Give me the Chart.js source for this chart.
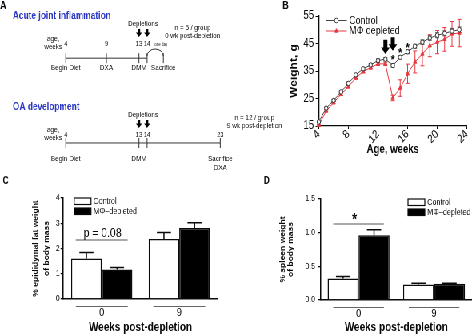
<!DOCTYPE html>
<html>
<head>
<meta charset="utf-8">
<script src="https://cdn.jsdelivr.net/npm/chart.js@4.4.1/dist/chart.umd.min.js"></script>
<style>
  html, body { margin: 0; padding: 0; background: #fff; overflow: hidden; }
  /* the figure is drawn 1.25x wide and squeezed back, like the original */
  #figure { position: relative; width: 593px; height: 334px; transform: scaleX(0.8); transform-origin: 0 0; }
  #figure canvas { position: absolute; }
</style>
</head>
<body>
<div id="figure">
  <canvas id="panelA" width="375" height="176" style="left:0;top:0"></canvas>
  <canvas id="panelB" width="297" height="167" style="left:296px;top:0"></canvas>
  <canvas id="panelC" width="296" height="167" style="left:0;top:167px"></canvas>
  <canvas id="panelD" width="297" height="167" style="left:296px;top:167px"></canvas>
</div>
<script>
const SANS = "Arial, 'Liberation Sans', Helvetica, sans-serif";
const INK = '#0a0a0a';
const RED = '#e8383f';
const BLUE = '#2b37c2';

// panel A - study timelines
const acuteWeeks = [4, 9, 13, 14];
const acuteLabels = ['Begin Diet', 'DXA', 'DMM', ''];
const sacrificeWeek = 16;
const oaWeeks = [4, 13, 14, 23];
const oaLabels = ['Begin Diet', 'DMM', '', 'Sacrifice'];
const depletionWeeks = [13, 14];

// panel B - body weight
const weeks = [4, 5, 6, 7, 8, 9, 10, 11, 12, 13, 14, 15, 16, 17, 18, 19, 20, 21, 22, 23];
const controlWeight = [16.5, 21.5, 24.3, 27.4, 30.5, 33.6, 35.8, 37.2, 38.8, 39.3, 37.0, 40.0, 42.0, 44.0, 45.5, 47.0, 48.0, 48.7, 49.5, 50.0];
const controlErr = [0.3, 0.4, 0.4, 0.4, 0.5, 0.5, 0.5, 0.5, 0.6, 0.6, 0.6, 0.6, 0.7, 0.7, 0.8, 0.8, 0.9, 0.9, 1.0, 1.0];
const depletedWeight = [15.3, 20.5, 23.5, 26.5, 29.3, 32.5, 34.8, 36.2, 37.6, 37.6, 25.2, 28.8, 34.0, 38.3, 41.2, 44.2, 45.5, 46.5, 48.5, 48.8];
const depletedErr = [0.3, 0.4, 0.4, 0.4, 0.5, 0.5, 0.5, 0.5, 0.6, 0.6, 1.0, 3.0, 3.5, 4.0, 4.3, 4.0, 4.2, 4.3, 4.5, 5.0];
const starWeeks = [14, 15, 16];
const starHeights = [40.2, 42.6, 44.5];

// panels C and D - tissue weights
const postDepletion = ['0', '9'];
const fatControl = [1.6, 2.38];
const fatControlErr = [0.24, 0.25];
const fatDepleted = [1.17, 2.81];
const fatDepletedErr = [0.08, 0.21];
const spleenControl = [0.32, 0.23];
const spleenControlErr = [0.03, 0.02];
const spleenDepleted = [0.96, 0.24];
const spleenDepletedErr = [0.085, 0.01];

Chart.defaults.font.family = SANS;
Chart.defaults.color = INK;
Chart.defaults.animation = false;
Chart.defaults.responsive = false;
Chart.defaults.devicePixelRatio = 1;
Chart.defaults.plugins.legend.display = false;
Chart.defaults.plugins.tooltip.enabled = false;

function text(ctx, str, x, y, font, opts = {}) {
  ctx.save();
  ctx.font = font;
  ctx.fillStyle = opts.color || INK;
  ctx.textAlign = opts.align || 'center';
  ctx.textBaseline = opts.baseline || 'middle';
  ctx.fillText(str, x, y);
  ctx.restore();
}

function downArrow(ctx, x, top, bottom, shaft, head, headH) {
  ctx.save();
  ctx.fillStyle = '#000';
  ctx.beginPath();
  ctx.moveTo(x - shaft / 2, top);
  ctx.lineTo(x + shaft / 2, top);
  ctx.lineTo(x + shaft / 2, bottom - headH);
  ctx.lineTo(x + head / 2, bottom - headH);
  ctx.lineTo(x, bottom);
  ctx.lineTo(x - head / 2, bottom - headH);
  ctx.lineTo(x - shaft / 2, bottom - headH);
  ctx.closePath();
  ctx.fill();
  ctx.restore();
}

// ---------- panel A ----------
const ACUTE_Y = 56, OA_Y = 147;
const tickPoint = { pointStyle: 'line', rotation: 90, pointRadius: 5, pointBorderWidth: 1, pointBorderColor: '#333', borderColor: '#333', borderWidth: 1 };

const timelineText = {
  id: 'timelineText',
  afterDraw(chart) {
    const ctx = chart.ctx;
    const x = v => chart.scales.x.getPixelForValue(v);
    const small = `8px ${SANS}`;
    text(ctx, 'A', 0, 6, `bold 11px ${SANS}`, {align: 'left'});
    const sections = [
      {title: 'Acute joint inflammation', titleY: 16, y: ACUTE_Y, wk: acuteWeeks, labels: acuteLabels, n: 'n = 5 / group', post: '0 wk post-depletion', nWeek: 19.6, nY: 28},
      {title: 'OA development', titleY: 107, y: OA_Y, wk: oaWeeks, labels: oaLabels, n: 'n = 12 / group', post: '9 wk post-depletion', nWeek: 27.2, nY: 118}
    ];
    sections.forEach(s => {
      text(ctx, s.title, 16, s.titleY, `bold 10.5px ${SANS}`, {align: 'left', color: BLUE});
      text(ctx, 'age,', x(2.45), s.y - 17, small);
      text(ctx, 'weeks', x(2.45), s.y - 9, small);
      s.wk.forEach((w, i) => {
        text(ctx, String(w), x(w), s.y - 12, `7.5px ${SANS}`);
        if (s.labels[i]) text(ctx, s.labels[i], x(w), s.y + 12, small);
      });
      const mid = (depletionWeeks[0] + depletionWeeks[1]) / 2;
      text(ctx, 'Depletions', x(mid), s.y - 32, small);
      depletionWeeks.forEach(w => downArrow(ctx, x(w), s.y - 27, s.y - 19, 3, 7.5, 4.5));
      text(ctx, s.n, x(s.nWeek), s.nY, small);
      text(ctx, s.post, x(s.nWeek), s.nY + 8, small);
    });
    // one-day gap to sacrifice in the acute study
    const x0 = x(depletionWeeks[1]), x1 = x(sacrificeWeek);
    ctx.save();
    ctx.strokeStyle = '#333';
    ctx.lineWidth = 1;
    ctx.beginPath();
    ctx.ellipse((x0 + x1) / 2, ACUTE_Y, (x1 - x0) / 2, 7, 0, Math.PI, 2 * Math.PI);
    ctx.stroke();
    ctx.restore();
    text(ctx, 'one day', x(15.7), ACUTE_Y - 11.5, `4.5px ${SANS}`);
    text(ctx, 'Sacrifice', x1, ACUTE_Y + 12, small);
    text(ctx, 'DXA', x(oaWeeks[3]), OA_Y + 21, small);
  }
};

new Chart(document.getElementById('panelA'), {
  type: 'line',
  data: {
    datasets: [
      {data: acuteWeeks.map(w => ({x: w, y: ACUTE_Y})), ...tickPoint},
      {data: [{x: sacrificeWeek, y: ACUTE_Y}], showLine: false, ...tickPoint},
      {data: oaWeeks.map(w => ({x: w, y: OA_Y})), ...tickPoint}
    ]
  },
  options: {
    scales: {
      x: {type: 'linear', display: false, min: -3.5, max: 32.214},
      y: {type: 'linear', display: false, min: 0, max: 176, reverse: true}
    }
  },
  plugins: [timelineText]
});

// ---------- panel B ----------
function lineErrors(chart, values, errs, color) {
  const {ctx, scales: {x, y}} = chart;
  ctx.save();
  ctx.strokeStyle = color;
  ctx.lineWidth = 1;
  weeks.forEach((w, i) => {
    const px = x.getPixelForValue(w);
    const lo = y.getPixelForValue(values[i] - errs[i]);
    const hi = y.getPixelForValue(values[i] + errs[i]);
    ctx.beginPath();
    ctx.moveTo(px, lo); ctx.lineTo(px, hi);
    ctx.moveTo(px - 2.5, lo); ctx.lineTo(px + 2.5, lo);
    ctx.moveTo(px - 2.5, hi); ctx.lineTo(px + 2.5, hi);
    ctx.stroke();
  });
  ctx.restore();
}

const weightExtras = {
  id: 'weightExtras',
  beforeDatasetsDraw(chart) {
    lineErrors(chart, controlWeight, controlErr, '#444');
    lineErrors(chart, depletedWeight, depletedErr, RED);
  },
  afterDraw(chart) {
    const {ctx, chartArea: area, scales: {x, y}} = chart;
    text(ctx, 'B', 61, 6, `bold 11px ${SANS}`);
    downArrow(ctx, x.getPixelForValue(depletionWeeks[0]), y.getPixelForValue(46.4), y.getPixelForValue(41.2), 5, 11, 6.5);
    downArrow(ctx, x.getPixelForValue(depletionWeeks[1]), y.getPixelForValue(47.3), y.getPixelForValue(42.4), 5, 11, 6.5);
    starWeeks.forEach((w, i) => {
      text(ctx, '*', x.getPixelForValue(w), y.getPixelForValue(starHeights[i]) + 7, `bold 13px ${SANS}`, {baseline: 'alphabetic'});
    });
    // legend
    const items = [
      {name: 'Control', color: '#444', style: 'circle', fill: '#fff', yy: 20.5},
      {name: 'MΦ depleted', color: RED, style: 'triangle', fill: RED, yy: 31}
    ];
    items.forEach(it => {
      const l = area.left + 9, r = area.left + 35;
      ctx.save();
      ctx.strokeStyle = it.color;
      ctx.lineWidth = 1;
      ctx.beginPath();
      ctx.moveTo(l, it.yy); ctx.lineTo(r, it.yy);
      ctx.stroke();
      ctx.fillStyle = it.fill;
      Chart.helpers.drawPoint(ctx, {pointStyle: it.style, radius: 2.3, rotation: 0, borderWidth: 1}, (l + r) / 2, it.yy);
      ctx.restore();
      text(ctx, it.name, area.left + 38, it.yy, `11px ${SANS}`, {align: 'left'});
    });
  }
};

new Chart(document.getElementById('panelB'), {
  type: 'line',
  data: {
    datasets: [
      {label: 'Control', data: weeks.map((w, i) => ({x: w, y: controlWeight[i]})),
       borderColor: '#444', borderWidth: 1, pointStyle: 'circle', pointRadius: 2.2,
       pointBackgroundColor: '#fff', pointBorderColor: '#333', pointBorderWidth: 1, clip: false},
      {label: 'MΦ depleted', data: weeks.map((w, i) => ({x: w, y: depletedWeight[i]})),
       borderColor: RED, borderWidth: 1, pointStyle: 'triangle', pointRadius: 2.4,
       pointBackgroundColor: RED, pointBorderColor: RED, pointBorderWidth: 1, clip: false}
    ]
  },
  options: {
    layout: {padding: {top: 16, right: 9.5, left: 0, bottom: 0}},
    scales: {
      x: {
        type: 'linear', min: 4, max: 24,
        ticks: {stepSize: 2, font: {size: 12}, color: INK, padding: -2},
        grid: {drawOnChartArea: false, tickLength: 3, color: INK},
        border: {color: INK, width: 1.3},
        title: {display: true, text: 'Age, weeks', color: INK, font: {size: 12, weight: 'bold'}, padding: {top: 0, bottom: 10}},
        afterFit(s) { s.height = 41; }
      },
      y: {
        min: 15, max: 55,
        ticks: {stepSize: 5, font: {size: 12}, color: INK, padding: 2},
        grid: {drawOnChartArea: false, tickLength: 4, color: INK},
        border: {color: INK, width: 1.3},
        title: {display: true, text: 'Weight, g', color: INK, font: {size: 12, weight: 'bold'}, padding: {top: 64, bottom: 0}},
        afterFit(s) { s.width = 102.5; }
      }
    }
  },
  plugins: [weightExtras]
});

// ---------- panels C and D ----------
function barErrors(chart, dsIndex, values, errs) {
  const {ctx} = chart;
  const y = chart.scales.y;
  ctx.save();
  ctx.strokeStyle = INK;
  ctx.lineWidth = 1.5;
  chart.getDatasetMeta(dsIndex).data.forEach((bar, i) => {
    const top = y.getPixelForValue(values[i] + errs[i]);
    const half = bar.width * 0.23;
    ctx.beginPath();
    ctx.moveTo(bar.x, bar.y); ctx.lineTo(bar.x, top);
    ctx.moveTo(bar.x - half, top); ctx.lineTo(bar.x + half, top);
    ctx.stroke();
  });
  ctx.restore();
}

function groupCenter(chart, i) {
  const a = chart.getDatasetMeta(0).data[i], b = chart.getDatasetMeta(1).data[i];
  return (a.x - a.width / 2 + b.x + b.width / 2) / 2;
}

function hLine(ctx, x0, x1, y, color, width) {
  ctx.save();
  ctx.strokeStyle = color;
  ctx.lineWidth = width;
  ctx.beginPath();
  ctx.moveTo(x0, y); ctx.lineTo(x1, y);
  ctx.stroke();
  ctx.restore();
}

function barPanel(id, cfg) {
  const extras = {
    id: 'barExtras',
    afterDatasetsDraw(chart) {
      barErrors(chart, 0, cfg.control, cfg.controlErr);
      barErrors(chart, 1, cfg.depleted, cfg.depletedErr);
    },
    afterDraw(chart) {
      const {ctx, chartArea: area, scales: {x, y}} = chart;
      const cat = (x.getPixelForValue(1) - x.getPixelForValue(0));
      text(ctx, cfg.letter, cfg.letterX, 14, `bold 10px ${SANS}`, {align: 'left'});
      postDepletion.forEach((c, i) => {
        const cx = groupCenter(chart, i);
        hLine(ctx, cx - cat * 0.335, cx + cat * 0.335, area.bottom + 7.5, '#666', 1.2);
      });
      // significance mark over the first group
      const cx = groupCenter(chart, 0);
      hLine(ctx, cx - cat * 0.335, cx + cat * 0.335, cfg.markLineY, '#555', 1.2);
      text(ctx, cfg.mark, cx + cfg.markDx, cfg.markY, cfg.markFont, {baseline: 'alphabetic'});
      // legend boxes
      ['Control', 'MΦ–depleted'].forEach((name, i) => {
        const top = area.top + i * 10;
        const left = area.left + cfg.legendDx;
        ctx.save();
        ctx.fillStyle = i ? '#000' : '#fff';
        ctx.fillRect(left, top, 21, 6.5);
        ctx.strokeStyle = INK;
        ctx.lineWidth = 1.2;
        ctx.strokeRect(left, top, 21, 6.5);
        ctx.restore();
        text(ctx, name, left + 24, top + 3.5, `9px ${SANS}`, {align: 'left'});
      });
    }
  };

  return new Chart(document.getElementById(id), {
    type: 'bar',
    data: {
      labels: postDepletion,
      datasets: [
        {label: 'Control', data: cfg.control, backgroundColor: '#fff', borderColor: INK, borderWidth: 1.5,
         categoryPercentage: cfg.catPct, barPercentage: 1},
        {label: 'MΦ–depleted', data: cfg.depleted, backgroundColor: '#000', borderColor: INK, borderWidth: 1.5,
         categoryPercentage: cfg.catPct, barPercentage: 1}
      ]
    },
    options: {
      layout: {padding: {top: cfg.top, right: cfg.right, left: 0, bottom: 0}},
      scales: {
        x: {
          ticks: {font: {size: 11.5}, color: INK, padding: 7},
          grid: {display: false, drawTicks: false},
          border: {color: INK, width: 1.5},
          title: {display: true, text: 'Weeks post-depletion', color: INK, font: {size: 12.5, weight: 'bold', lineHeight: 1}, padding: {top: 0, bottom: 0}},
          afterFit(s) { s.height = cfg.xHeight; }
        },
        y: {
          min: 0, max: cfg.max,
          ticks: {stepSize: cfg.step, font: {size: 9}, color: INK, padding: cfg.tickPad, callback: cfg.fmt},
          grid: {drawOnChartArea: false, tickLength: cfg.tickLen, color: INK, lineWidth: 1.3},
          border: {color: INK, width: 1.5},
          title: {display: true, text: cfg.yTitle, color: INK, font: {size: 8.5, weight: 'bold', lineHeight: cfg.titleLH}, padding: {top: cfg.titlePad, bottom: 0}},
          afterFit(s) { s.width = cfg.yWidth; }
        }
      }
    },
    plugins: [extras]
  });
}

barPanel('panelC', {
  control: fatControl, controlErr: fatControlErr, depleted: fatDepleted, depletedErr: fatDepletedErr,
  letter: 'C', letterX: 3.5, max: 4, step: 1, fmt: v => v,
  yTitle: ['% epididymal fat weight', 'of body mass'], titleLH: 1.6, titlePad: 38,
  yWidth: 78.75, top: 31, right: 23.5, xHeight: 35, catPct: 0.79, tickLen: 3, tickPad: 1,
  legendDx: 14, mark: 'p = 0.08', markY: 69.5, markDx: 1, markLineY: 73, markFont: `13px ${SANS}`
});

barPanel('panelD', {
  control: spleenControl, controlErr: spleenControlErr, depleted: spleenDepleted, depletedErr: spleenDepletedErr,
  letter: 'D', letterX: 33.75, max: 1.5, step: 0.5, fmt: v => v.toFixed(1),
  yTitle: ['% spleen weight', 'of body mass'], titleLH: 1.15, titlePad: 53,
  yWidth: 105, top: 32, right: 3.25, xHeight: 34, catPct: 0.82, tickLen: 4, tickPad: 3,
  legendDx: 109, mark: '*', markY: 58, markDx: -5, markLineY: 57, markFont: `bold 16px ${SANS}`
});
</script>
</body>
</html>
